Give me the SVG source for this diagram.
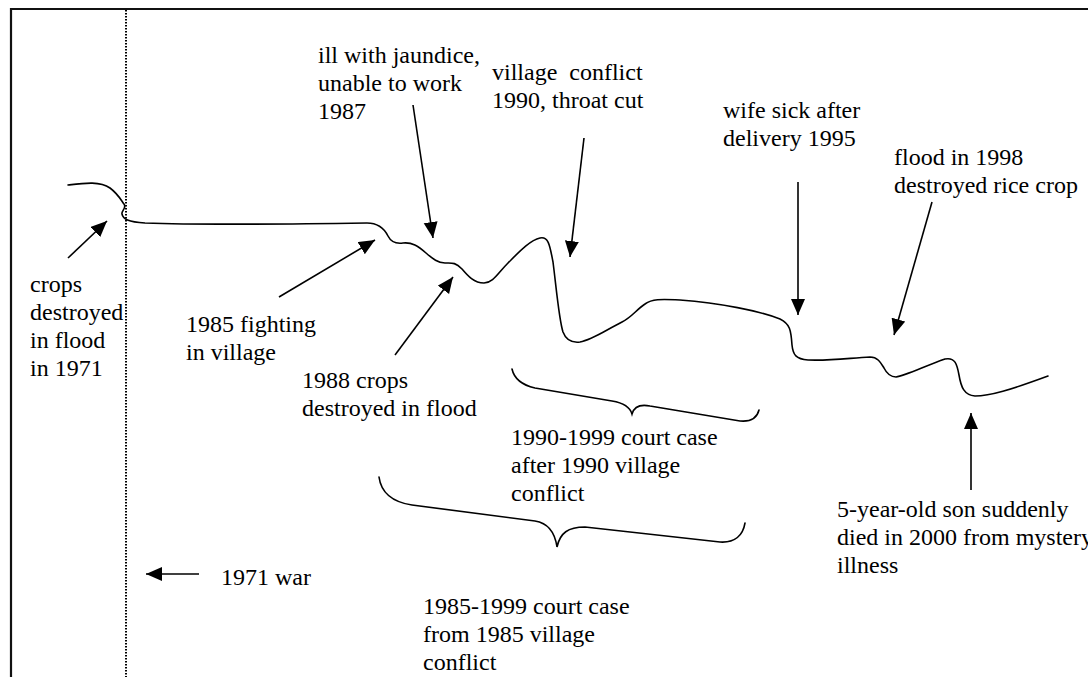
<svg xmlns="http://www.w3.org/2000/svg" width="1088" height="677" viewBox="0 0 1088 677">
  <style>
    text { font-family: 'Liberation Serif', Tinos, 'Times New Roman', Times, 'Noto Serif', 'DejaVu Serif', serif; font-size: 24px; fill: #000; }
    .ln { fill: none; stroke: #000; stroke-width: 1.6; stroke-linecap: round; }
    .arr { fill: none; stroke: #000; stroke-width: 1.6; marker-end: url(#head); }
    .frame { fill: none; stroke: #111; stroke-width: 2.2; }
    .dots { fill: none; stroke: #000; stroke-width: 2; stroke-dasharray: 1.5 1.5; }
  </style>
  <defs>
    <marker id="head" markerUnits="userSpaceOnUse" markerWidth="17" markerHeight="15" refX="16" refY="7" orient="auto">
      <path d="M0,0 L16,7 L0,14 Z" fill="#000"/>
    </marker>
  </defs>

  <rect width="1088" height="677" fill="#fff"/>

  <!-- frame and 1971 divider -->
  <path class="frame" d="M11,677 V9 H1088"/>
  <line class="dots" x1="126" y1="10" x2="126" y2="677"/>

  <!-- life line -->
  <g id="lifeline">
    <path class="ln" d="M68,185
      C85,183 100,181 110,188
      C118,194 121,200 124,204
      C127,208 121,211 122,214
      C123,219 128,222 145,223
      C200,225 300,224 367,223
      C378,223 384,228 388,236
      C391,242 396,244 403,243
      C412,242 418,246 426,253
      C433,259 438,263 445,263
      C452,263 455,262 462,269
      C468,276 474,283 484,283
      C493,283 498,273 508,263
      C518,253 530,240 540,238
      C549,236 550,247 553,262
      C556,285 559,320 563,332
      C566,340 572,343 580,342
      C592,340 606,330 622,322
      C632,317 636,310 645,304
      C652,299 660,299 680,300
      C720,303 760,311 780,319
      C790,324 791,330 792,345
      C793,355 796,359 808,360
      C830,361 850,358 870,357
      C878,357 881,363 884,368
      C887,374 890,377 896,377
      C905,376 925,366 945,359
      C955,357 957,364 959,375
      C961,387 964,395 975,396
      C990,396 1010,390 1048,376"/>
  </g>

  <!-- pointers and braces -->
  <g id="connectors">
    <line class="arr" x1="68" y1="258" x2="107" y2="221"/>
    <line class="arr" x1="279" y1="297" x2="375" y2="240"/>
    <line class="arr" x1="395" y1="355" x2="453" y2="277"/>
    <line class="arr" x1="413" y1="105" x2="433" y2="238"/>
    <line class="arr" x1="584" y1="138" x2="570" y2="257"/>
    <line class="arr" x1="798" y1="182" x2="798" y2="315"/>
    <line class="arr" x1="932" y1="202" x2="894" y2="335"/>
    <line class="arr" x1="971" y1="490" x2="971" y2="413"/>
    <line class="arr" x1="199" y1="574" x2="146" y2="574"/>

    <path class="ln" d="M512,369 C514,378 522,385 535,388 L612,401 C624,403 630,407 632,414 C634,407 640,404 650,406 L740,421 C751,422 757,418 759,410"/>
    <path class="ln" d="M379,477 C381,492 392,502 412,505 L535,521 C548,523 555,533 557,547 C560,533 568,527 585,527 L720,542 C735,543 743,535 745,523"/>
  </g>

  <!-- labels -->
  <g id="n-flood1971"><text x="30" y="292">crops</text><text x="30" y="320">destroyed</text><text x="30" y="348">in flood</text><text x="30" y="376">in 1971</text></g>
  <g id="n-jaundice"><text x="318" y="63">ill with jaundice,</text><text x="318" y="91">unable to work</text><text x="318" y="119">1987</text></g>
  <g id="n-conflict1990"><text x="492" y="80" xml:space="preserve">village  conflict</text><text x="492" y="108">1990, throat cut</text></g>
  <g id="n-wife"><text x="723" y="118">wife sick after</text><text x="723" y="146">delivery 1995</text></g>
  <g id="n-flood1998"><text x="894" y="165">flood in 1998</text><text x="894" y="193">destroyed rice crop</text></g>
  <g id="n-fighting1985"><text x="186" y="332">1985 fighting</text><text x="186" y="360">in village</text></g>
  <g id="n-flood1988"><text x="302" y="388">1988 crops</text><text x="302" y="416">destroyed in flood</text></g>
  <g id="n-court1990"><text x="511" y="445">1990-1999 court case</text><text x="511" y="473">after 1990 village</text><text x="511" y="501">conflict</text></g>
  <g id="n-court1985"><text x="423" y="614">1985-1999 court case</text><text x="423" y="642">from 1985 village</text><text x="423" y="670">conflict</text></g>
  <g id="n-war1971"><text x="221" y="585">1971 war</text></g>
  <g id="n-son2000"><text x="837" y="517">5-year-old son suddenly</text><text x="837" y="545">died in 2000 from mystery</text><text x="837" y="573">illness</text></g>
</svg>
